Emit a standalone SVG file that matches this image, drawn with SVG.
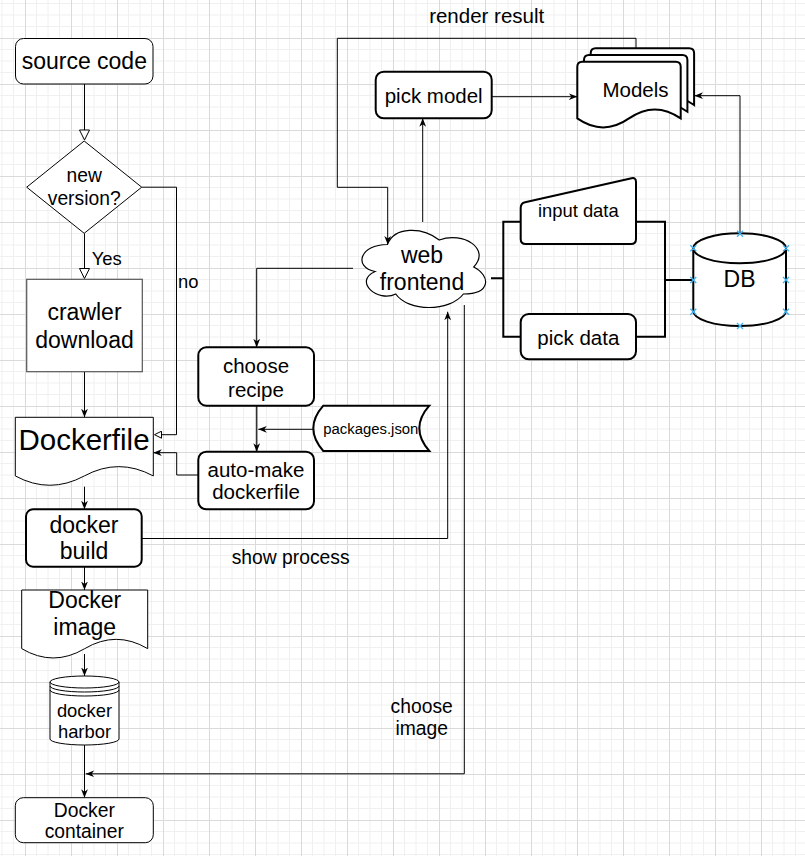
<svg xmlns="http://www.w3.org/2000/svg" width="805" height="856" viewBox="0 0 805 856">
<defs>
<style>
.t{font-family:"Liberation Sans",Arial,Helvetica,sans-serif;fill:#000;text-anchor:middle}
.st{text-anchor:start}
.f23{font-size:23px}.f20{font-size:20.5px}.f19{font-size:19.3px}.f18{font-size:18.4px}.f15{font-size:14.9px}.f29{font-size:29.5px}
.s1{fill:#fff;stroke:#000;stroke-width:1}
.s2{fill:#fff;stroke:#000;stroke-width:2}
.e{fill:none;stroke:#000;stroke-width:1}
.e2{fill:none;stroke:#000;stroke-width:2}
.x{stroke:#3fb3f0;stroke-width:1.3;fill:none}
</style>
<pattern id="grid" width="46" height="46" patternUnits="userSpaceOnUse" x="25" y="38">
<path d="M11.5,0V46M23,0V46M34.5,0V46M0,11.5H46M0,23H46M0,34.5H46" stroke="#f0f0f0" stroke-width="1" fill="none"/>
<path d="M0.5,0V46M0,0.5H46" stroke="#dadada" stroke-width="1" fill="none"/>
</pattern>
<marker id="arr" viewBox="0 0 10 10" refX="10" refY="5" markerWidth="8.5" markerHeight="8.5" markerUnits="userSpaceOnUse" orient="auto"><path d="M0,1 L10,5 L0,9 L3,5 z" fill="#000"/></marker>
<marker id="open" viewBox="0 0 12 11" refX="1" refY="5.5" markerWidth="12" markerHeight="11" markerUnits="userSpaceOnUse" orient="auto"><path d="M1,0.5 L11,5.5 L1,10.5 z" fill="#fff" stroke="#000" stroke-width="1"/></marker>
<marker id="opens" viewBox="0 0 9 8" refX="1" refY="4" markerWidth="9" markerHeight="8" markerUnits="userSpaceOnUse" orient="auto"><path d="M1,0.5 L8,4 L1,7.5 z" fill="#fff" stroke="#000" stroke-width="1"/></marker>
</defs>
<rect width="805" height="856" fill="#fff"/>
<rect width="805" height="856" fill="url(#grid)"/>

<g id="connectors">
<path class="e" d="M84.5,84 V130" marker-end="url(#open)"/>
<path class="e" d="M84.5,233.3 V268.5" marker-end="url(#open)"/>
<path class="e" d="M141.7,187.2 H176.5 V434.7 H161.5" marker-end="url(#opens)"/>
<path class="e" d="M84.5,371.7 V417.3" marker-end="url(#arr)"/>
<path class="e" d="M84.5,486.7 V509.3" marker-end="url(#arr)"/>
<path class="e" d="M84.5,566.7 V590" marker-end="url(#arr)"/>
<path class="e" d="M84.5,654 V676" marker-end="url(#arr)"/>
<path class="e" d="M84.5,745 V797.7" marker-end="url(#arr)"/>
<path class="e" d="M198.3,475 H176.7 V452.7 H153.3" marker-end="url(#arr)"/>
<path class="e" d="M141.7,538.5 H447.7 V311.7" marker-end="url(#arr)"/>
<path class="e" d="M464.3,305 V773.8 H85.7" marker-end="url(#arr)"/>
<path class="e" d="M353,268.3 H256.7 V347.3" marker-end="url(#arr)"/>
<path class="e" style="stroke:#333;stroke-width:1.5" d="M256.7,405.7 V451.7" marker-end="url(#arr)"/>
<path class="e" d="M313.3,429.3 H258.3" marker-end="url(#arr)"/>
<path class="e" d="M422.7,222 V118.3" marker-end="url(#arr)"/>
<path class="e" d="M491.7,96.7 H577.3" marker-end="url(#arr)"/>
<path class="e" d="M740,233.3 V95.7 H694.5" marker-end="url(#arr)"/>
<path class="e" d="M636,48.3 V38.3 H337.3 V187.3 H387.7 V244.5" marker-end="url(#arr)"/>
<path class="e2" d="M491,278.3 H503.3 M520.7,221.7 H503.3 V336.7 H520.7 M636,221.7 H665 V336.7 H636 M665,280 H693.3"/>
<text class="t st f18" x="91.7" y="265">Yes</text>
<text class="t st f18" x="178" y="288">no</text>
<text class="t st f19" x="231.7" y="564">show process</text>
<text class="t f19" x="421.7" y="712.7">choose</text>
<text class="t f19" x="421.7" y="735">image</text>
<text class="t f20" x="486.7" y="23.3">render result</text>
</g>

<g id="source-code">
<rect class="s1" x="15.5" y="38.5" width="137.5" height="45.5" rx="8"/>
<text class="t f23" x="84.3" y="69">source code</text>
</g>

<g id="new-version">
<polygon class="s1" points="84.2,141 141.7,187.2 84.2,233.3 26.7,187.2"/>
<text class="t f19" x="84.2" y="181.7">new</text>
<text class="t f19" x="84.2" y="205">version?</text>
</g>

<g id="crawler-download">
<rect x="26.7" y="279.3" width="115.6" height="92.4" fill="#fff" stroke="#555" stroke-width="1.2"/>
<text class="t f23" x="84.5" y="320">crawler</text>
<text class="t f23" x="84.5" y="348.3">download</text>
</g>

<g id="dockerfile">
<path class="s1" d="M15.3,417.3 H153.3 V475.95 Q118.8,457.32 84.3,475.95 Q49.8,494.58 15.3,475.95 Z"/>
<text class="t f29" x="84" y="450">Dockerfile</text>
</g>

<g id="docker-build">
<rect class="s2" x="26" y="509.3" width="115.7" height="57.4" rx="7"/>
<text class="t f23" x="84" y="533.3">docker</text>
<text class="t f23" x="84" y="559.3">build</text>
</g>

<g id="docker-image">
<path class="s1" d="M21.7,590 H147.7 V648.65 Q116.2,630.02 84.7,648.65 Q53.2,667.28 21.7,648.65 Z"/>
<text class="t f23" x="84.7" y="608.3">Docker</text>
<text class="t f23" x="84.7" y="635">image</text>
</g>

<g id="docker-harbor">
<path class="s1" d="M50,682 A34.5,6 0 0 1 119,682 V739 A34.5,6 0 0 1 50,739 Z"/>
<path class="e" d="M50,682 A34.5,6 0 0 0 119,682 M50,686 A34.5,6 0 0 0 119,686 M50,690 A34.5,6 0 0 0 119,690"/>
<text class="t f18" x="84.5" y="716.7">docker</text>
<text class="t f18" x="84.5" y="738.3">harbor</text>
</g>

<g id="docker-container">
<rect class="s1" x="15.3" y="797.7" width="138" height="45" rx="8"/>
<text class="t f19" x="84.3" y="816.7">Docker</text>
<text class="t f19" x="84.3" y="838.3">container</text>
</g>

<g id="pick-model">
<rect class="s2" x="375.7" y="71.7" width="116" height="46.6" rx="8"/>
<text class="t f20" x="433.7" y="103.3">pick model</text>
</g>

<g id="models">
<path class="s2" d="M595.7,48.3 H689.1 Q694.1,48.3 694.1,53.3 V105 Q668.25,87 642.4,105 Q616.55,123 590.7,105 V53.3 Q590.7,48.3 595.7,48.3 Z"/>
<path class="s2" d="M589,55 H682.4 Q687.4,55 687.4,60 V111.7 Q661.55,93.7 635.7,111.7 Q609.85,129.7 584,111.7 V60 Q584,55 589,55 Z"/>
<path class="s2" d="M582.3,61.7 H675.7 Q680.7,61.7 680.7,66.7 V118.4 Q654.85,100.4 629,118.4 Q603.15,136.4 577.3,118.4 V66.7 Q577.3,61.7 582.3,61.7 Z"/>
<text class="t f20" x="635.5" y="96.7">Models</text>
</g>

<g id="web-frontend">
<path d="M387.5,244.5 C359.9,244.5 353,267 375.08,271.5 C353,281.4 377.84,303 395.78,294 C408.2,312 449.6,312 463.4,294 C491,294 491,276 473.75,267 C491,249 463.4,231 439.25,240 C422,226.5 394.4,226.5 387.5,244.5 Z" fill="#fff" stroke="#000" stroke-width="1.2"/>
<text class="t f23" x="422" y="263.3">web</text>
<text class="t f23" x="422" y="290">frontend</text>
</g>

<g id="input-data">
<path class="s2" d="M520.7,208 Q520.7,203.3 525.1,202.3 L631.6,178.3 Q636,177.3 636,182 L636,239 Q636,244 631,244 L525.7,244 Q520.7,244 520.7,239 Z"/>
<text class="t f18" x="578.3" y="216.7">input data</text>
</g>

<g id="pick-data">
<rect class="s2" x="520.7" y="314" width="115.3" height="45.3" rx="8"/>
<text class="t f20" x="578.3" y="345">pick data</text>
</g>

<g id="db">
<path class="s2" d="M693.3,248.3 A46.35,15 0 0 1 786,248.3 V311 A46.35,15 0 0 1 693.3,311 Z"/>
<path class="e2" d="M693.3,248.3 A46.35,15 0 0 0 786,248.3"/>
<text class="t f23" x="739.6" y="286.7">DB</text>
<path class="x" d="M737,230.8 l6,6 m0,-6 l-6,6 M690.3,245.3 l6,6 m0,-6 l-6,6 M783,245.3 l6,6 m0,-6 l-6,6 M690.3,277 l6,6 m0,-6 l-6,6 M783,277 l6,6 m0,-6 l-6,6 M690.3,308.7 l6,6 m0,-6 l-6,6 M783,308.7 l6,6 m0,-6 l-6,6 M737,323 l6,6 m0,-6 l-6,6"/>
</g>

<g id="choose-recipe">
<rect class="s2" x="198.3" y="347.3" width="115.7" height="58.4" rx="8"/>
<text class="t f20" x="256" y="373.3">choose</text>
<text class="t f20" x="256" y="396.7">recipe</text>
</g>

<g id="packages-json">
<path class="s2" d="M323.3,405.7 H429.3 Q409.3,428.35 429.3,451 H323.3 Q303.3,428.35 323.3,405.7 Z"/>
<text class="t f15" x="370.8" y="434">packages.json</text>
</g>

<g id="auto-make">
<rect class="s2" x="198.3" y="451.7" width="115.7" height="57.6" rx="8"/>
<text class="t f20" x="256" y="476.7">auto-make</text>
<text class="t f20" x="256" y="499.3">dockerfile</text>
</g>
</svg>
